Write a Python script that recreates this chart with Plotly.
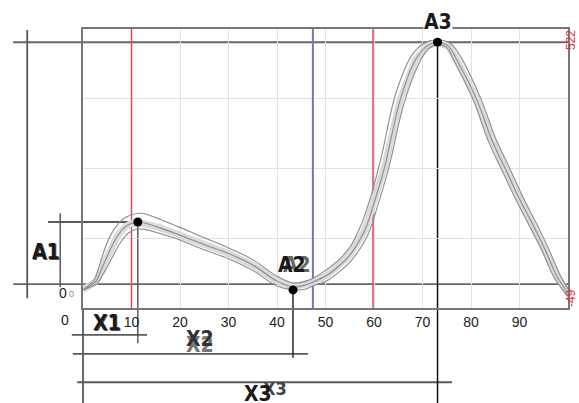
import plotly.graph_objects as go

# ---------------- data ----------------
x_tick_vals = [10, 20, 30, 40, 50, 60, 70, 80, 90]
x_range = [0, 100]
y_range = [-49, 522]
y_range_labels = ["522", "-49"]

upper_x = [0, 1.2, 2.4, 3.6, 5.0, 6.6, 8.2, 10.0, 12.0, 14.0, 16.0, 20.0, 25.0, 30.0, 35.0, 40.0, 43.5, 46.0,
           47.4, 50.0, 53.0, 55.0, 57.5, 59.5, 61.5, 64.5, 67.8, 70.5, 73.0, 75.7, 77.8, 82.0, 85.0, 88.2,
           90.9, 93.6, 96.1, 98.5, 100.0]
upper_y = [-12, -2, 10, 45, 85, 115, 133, 142, 145, 140, 132, 116, 95, 74, 50, 16, 2, 6,
           12, 28, 52, 75, 125, 185, 260, 390, 468, 494, 500, 493, 466, 380, 300, 232,
           174, 122, 70, 16, -10]

mid_x = [0, 1.4, 2.7, 4.1, 5.6, 7.2, 8.7, 9.9, 11.3, 13.4, 15.9, 20.0, 25.2, 29.9, 35.0, 40.0, 43.3, 45.8,
         47.4, 50.3, 53.0, 55.0, 58.1, 60.2, 62.3, 65.4, 68.5, 70.9, 73.1, 75.3, 77.1, 81.2, 84.3, 87.4,
         90.1, 92.8, 95.3, 97.7, 100.0]
mid_y = [-12, -4, 6, 37, 70, 100, 117, 124, 127, 123, 115, 100, 80, 63, 39, 6, -6, -2,
         4, 18, 39, 59, 110, 172, 244, 377, 458, 487, 495, 487, 458, 377, 295, 229,
         172, 121, 70, 16, -18]

lower_x = [0, 1.6, 3.0, 4.6, 6.2, 7.8, 9.3, 11.0, 12.8, 15.0, 20.0, 25.0, 30.0, 35.0, 40.0, 43.3, 46.0,
           47.4, 50.5, 53.2, 55.5, 58.7, 60.9, 63.1, 66.2, 69.2, 71.3, 73.2, 75.0, 76.6, 80.5, 83.6,
           86.7, 89.4, 92.0, 94.6, 97.0, 100.0]
lower_y = [-12, -6, 2, 28, 58, 86, 104, 112, 112, 106, 90, 70, 52, 28, -4, -12, -10,
           -4, 8, 28, 50, 100, 165, 240, 370, 450, 482, 490, 484, 455, 376, 292,
           226, 170, 120, 70, 16, -26]

peak_names = ["A1", "A2", "A3"]
peak_x = [11.3, 43.3, 73.1]
peak_y = [127, -12, 495]

red_marker_x = [10, 59.8]
blue_marker_x = [47.4]

# dimension guide levels (data units)
x_dim_names = ["X1", "X2", "X3"]
x_dim_level = [-104, -143, -201]
x_dim_start = [-2.3, -2.1, -1.2]
x_dim_end = [13.2, 46.4, 76.1]
x_dim_drop = [-121, -151, None]

# ---------------- layout geometry ----------------
W, H = 579, 403
FL, FR, FT, FB = 83, 568, 29, 308  # frame box in pixels
kx = (FR - FL) / (x_range[1] - x_range[0])
ky = (FB - FT) / (y_range[1] - y_range[0])
full_x = [x_range[0] - FL / kx, x_range[1] + (W - FR) / kx]
full_y = [y_range[0] - (H - FB) / ky, y_range[1] + FT / ky]

DIM = "#5a5a5a"
fig = go.Figure()


def seg(xs, ys, color, width, ref="xy"):
    fig.add_trace(go.Scatter(x=xs, y=ys, mode="lines", line=dict(color=color, width=width),
                             hoverinfo="skip", showlegend=False,
                             xaxis="x" if ref == "xy" else "x2",
                             yaxis="y" if ref == "xy" else "y2"))


# horizontal reference lines (peak level and baseline), extending left
seg([-14.4, x_range[1]], [peak_y[2], peak_y[2]], "#666666", 2)
seg([-14.4, x_range[1]], [0, 0], "#666666", 1.8)
# A3 dimension vertical (far left)
seg([-11.5, -11.5], [520, -29], DIM, 1.8)
# A1 dimension
seg([-4.7, -4.7], [145, -6], DIM, 1.5)
seg([-7.2, peak_x[0]], [peak_y[0], peak_y[0]], DIM, 1.8)
# frame left extension downward
seg([x_range[0], x_range[0]], [y_range[0], full_y[0]], DIM, 1.8)
# X dimension lines
for i in range(3):
    seg([x_dim_start[i], x_dim_end[i]], [x_dim_level[i], x_dim_level[i]], DIM, 1.8)
seg([peak_x[0], peak_x[0]], [peak_y[0], x_dim_drop[0]], DIM, 1.5)
seg([peak_x[1], peak_x[1]], [peak_y[1], x_dim_drop[1]], "#333333", 1.6)
seg([peak_x[2], peak_x[2]], [peak_y[2], full_y[0]], "#111111", 1.5)

# coloured marker lines (inside the frame)
for rx in red_marker_x:
    seg([rx, rx], [y_range[0], y_range[1]], "#e0485f", 1.5, ref="x2y2")
for bx in blue_marker_x:
    seg([bx, bx], [y_range[0], y_range[1]], "#7676b4", 2, ref="x2y2")

# curves in the frame subplot
seg(mid_x, mid_y, "#dadada", 7, ref="x2y2")
for cx, cy in [(upper_x, upper_y), (mid_x, mid_y), (lower_x, lower_y)]:
    fig.add_trace(go.Scatter(x=cx, y=cy, mode="lines", line=dict(color="#8c8c8c", width=1.1, shape="spline"),
                             hoverinfo="skip", showlegend=False, xaxis="x2", yaxis="y2"))
fig.add_trace(go.Scatter(x=peak_x, y=peak_y, mode="markers", marker=dict(color="black", size=9),
                         hoverinfo="skip", showlegend=False, xaxis="x2", yaxis="y2", cliponaxis=False))

BOLD = "Liberation Sans Narrow, DejaVu Sans Condensed, Arial Narrow, sans-serif"


def label(text, x, y, size=21, color="#1a1a1a", xs=0, ys=0, bg=None, angle=0, xanchor="center",
          yanchor="middle", family=BOLD, xref="x", yref="y"):
    fig.add_annotation(text=text, x=x, y=y, xref=xref, yref=yref, showarrow=False,
                       font=dict(family=family, size=size, color=color), xshift=xs, yshift=ys,
                       bgcolor=bg, textangle=angle, xanchor=xanchor, yanchor=yanchor, borderpad=0)


# peak labels
label("<b>A1</b>", -7.6, 65, color="#555555", xs=1, ys=-1)
label("<b>A1</b>", -7.6, 65)
label("<b>A2</b>", 43.0, 39, color="#666666", xs=5)
label("<b>A2</b>", 43.0, 39)
label("<b>A3</b>", peak_x[2], y_range[1], bg="white", ys=7)
# X labels
label("<b>X1</b>", 4.9, -80, color="#555555", xs=1, ys=-1)
label("<b>X1</b>", 4.9, -80)
label("<b>X2</b>", 24.1, -112, color="#777777", ys=-6)
label("<b>X2</b>", 24.1, -112, color="#333333")
label("<b>X3</b>", 37.6, -222, size=18, color="#444444", xs=10, ys=4)
label("<b>X3</b>", 36.0, -224)

# zero labels
REG = "Liberation Sans, Arial, sans-serif"
label("0", -3.8, -74, size=14, color="#222222", family=REG)
label("0", -4.2, -18, size=14, color="#222222", family=REG)
label("0", -2.3, -20, size=9, color="#888888", family=REG)

# red range labels on the right
label(y_range_labels[0], 1.0, y_range[1], size=12, color="#e03030", angle=-90, family=REG,
      xref="paper", yref="y2", xanchor="right", yanchor="top")
label(y_range_labels[1], 1.0, y_range[0], size=12, color="#e03030", angle=-90, family=REG,
      xref="paper", yref="y2", xanchor="right", yanchor="bottom")

grid_step = (y_range[1] - y_range[0]) / 4
fig.update_layout(
    width=W, height=H, margin=dict(l=0, r=0, t=0, b=0),
    paper_bgcolor="white", plot_bgcolor="rgba(0,0,0,0)", showlegend=False,
    xaxis=dict(domain=[0, 1], range=full_x, visible=False, fixedrange=True),
    yaxis=dict(domain=[0, 1], range=full_y, visible=False, fixedrange=True),
    xaxis2=dict(domain=[FL / W, FR / W], range=x_range, anchor="y2",
                tickvals=x_tick_vals, showgrid=True, gridcolor="#e2e2e2", gridwidth=1,
                showline=True, linecolor="#777777", linewidth=2, mirror=True, zeroline=False,
                ticks="", tickfont=dict(family=REG, size=14, color="#222222")),
    yaxis2=dict(domain=[(H - FB) / H, (H - FT) / H], range=y_range, anchor="x2",
                tick0=y_range[0], dtick=grid_step, showgrid=True, gridcolor="#e2e2e2",
                showline=True, linecolor="#777777", linewidth=2, mirror=True, zeroline=False,
                showticklabels=False, ticks=""),
)

fig.write_html("out.html", config={"displayModeBar": False},
               post_script="document.body.style.margin='0px';")
